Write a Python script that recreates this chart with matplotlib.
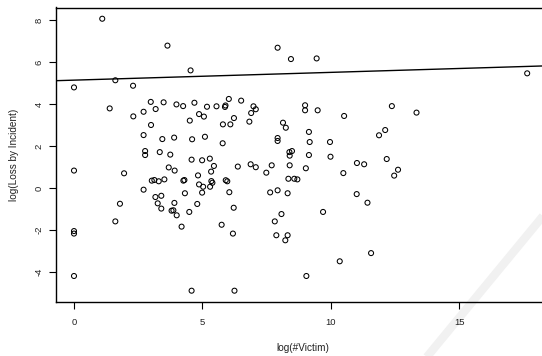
import matplotlib
matplotlib.use("Agg")
import matplotlib.pyplot as plt
from matplotlib.lines import Line2D

# Data
log_victim = [
    1.10, 3.64, 4.54, 0.00, 1.61, 2.30, 1.39, 2.31, 2.71, 2.99,
    3.18, 3.49, 3.99, 4.25, 4.69, 4.87, 3.00, 4.51, 2.71, 3.44,
    3.90, 4.60, 2.77, 2.77, 3.34, 3.75, 4.58, 3.69, 3.92, 0.00,
    1.95, 4.83, 2.71, 3.03, 3.13, 3.30, 3.52, 4.26, 4.30, 4.32,
    4.87, 3.17, 3.40, 3.26, 3.91, 3.40, 3.80, 3.87, 4.00, 4.49,
    4.80, 1.79, 1.61, 4.19, 0.00, 0.00, 0.00, 4.58, 5.18, 5.55,
    5.90, 5.88, 6.03, 6.51, 6.99, 7.08, 6.90, 6.83, 5.06, 5.80,
    6.09, 6.23, 5.10, 5.79, 9.00, 9.00, 9.49, 8.14, 8.25, 9.15,
    7.93, 7.93, 9.18, 9.97, 8.39, 8.49, 8.40, 9.15, 9.99, 4.99,
    5.29, 5.45, 5.34, 6.38, 6.88, 7.08, 7.70, 7.49, 8.40, 9.03,
    8.35, 8.58, 8.70, 5.03, 5.30, 5.35, 5.39, 5.91, 5.97, 4.99,
    6.05, 7.64, 7.93, 8.32, 10.49, 11.02, 11.30, 11.01, 11.43, 6.22,
    5.75, 6.19, 8.08, 7.82, 7.88, 8.32, 8.23, 9.70, 11.57, 10.35,
    9.05, 6.25, 7.93, 8.45, 9.45, 10.52, 12.38, 13.34, 11.88, 12.12,
    12.18, 12.62, 12.47, 17.65,
]
log_loss = [
    8.06, 6.78, 5.60, 4.79, 5.13, 4.87, 3.79, 3.41, 3.63, 4.10,
    3.76, 4.08, 3.98, 3.90, 4.06, 3.52, 3.00, 3.21, 2.52, 2.33,
    2.40, 2.32, 1.76, 1.57, 1.71, 1.59, 1.35, 0.98, 0.83, 0.83,
    0.70, 0.60, -0.08, 0.35, 0.38, 0.32, 0.41, 0.35, 0.38, -0.25,
    0.17, -0.43, -0.37, -0.73, -0.71, -0.98, -1.08, -1.06, -1.30, -1.14,
    -0.76, -0.75, -1.59, -1.84, -2.05, -2.17, -4.19, -4.89, 3.87, 3.89,
    3.93, 3.86, 4.24, 4.16, 3.89, 3.75, 3.57, 3.16, 3.40, 3.03,
    3.03, 3.33, 2.44, 2.13, 3.94, 3.70, 3.70, 3.11, 2.87, 2.67,
    2.38, 2.24, 2.19, 2.19, 1.71, 1.76, 1.54, 1.57, 1.49, 1.32,
    1.40, 1.05, 0.78, 1.02, 1.13, 0.99, 1.08, 0.73, 1.08, 0.94,
    0.44, 0.44, 0.41, 0.06, 0.06, 0.33, 0.25, 0.37, 0.32, -0.22,
    -0.20, -0.21, -0.11, -0.25, 0.71, 1.19, 1.13, -0.29, -0.70, -0.94,
    -1.75, -2.17, -1.24, -1.59, -2.25, -2.25, -2.49, -1.14, -3.10, -3.49,
    -4.19, -4.89, 6.68, 6.14, 6.17, 3.43, 3.90, 3.59, 2.51, 2.76,
    1.38, 0.87, 0.59, 5.46,
]

# Fitted regression line
fit_intercept = 5.136
fit_slope = 0.037

x_ticks = [0, 5, 10, 15]
y_ticks = [-4, -2, 0, 2, 4, 6, 8]
x_label = "log(#Victim)"
y_label = "log(Loss by Incident)"

W, H = 542, 356
fig = plt.figure(figsize=(W / 100, H / 100), dpi=100)

# faint watermark band (decoration)
fig.add_artist(Line2D([426 / W, 548 / W], [1 - 358 / H, 1 - 210 / H],
                      transform=fig.transFigure, color="#f1f1f1",
                      lw=6, solid_capstyle="butt", zorder=-5))

left_px, right_px, top_px, bottom_px = 56, 549, 7.5, 301.7
ax = fig.add_axes([left_px / W, 1 - bottom_px / H,
                   (right_px - left_px) / W, (bottom_px - top_px) / H])
ax.set_facecolor("none")

ax.scatter(log_victim, log_loss, s=13, facecolors="none",
           edgecolors="black", linewidths=0.75, zorder=3)
ax.axline((0, fit_intercept), slope=fit_slope, color="black", lw=1.0, zorder=2)

ax.set_xlim(-0.701, 18.5)
ax.set_ylim(-5.414, 8.595)

ax.set_xticks(x_ticks)
ax.set_yticks(y_ticks)
ax.set_xticklabels([str(t) for t in x_ticks])
ax.set_yticklabels([str(t) for t in y_ticks], rotation=90, va="center")

for s in ["left", "bottom", "top"]:
    ax.spines[s].set_linewidth(1.0)
    ax.spines[s].set_color("black")
ax.spines["right"].set_visible(False)

ax.tick_params(axis="both", direction="out", length=5, width=0.8,
               colors="black", labelcolor="#222222", labelsize=6.8,
               labelfontfamily="Liberation Sans")
ax.tick_params(axis="x", pad=7)
ax.tick_params(axis="y", pad=4)

ax.set_xlabel(x_label, fontsize=7.2, family="Liberation Sans",
              color="#222222", labelpad=11)
ax.set_ylabel(y_label, fontsize=7.2, family="Liberation Sans",
              color="#222222", labelpad=11)

fig.savefig("out.png", dpi=100)
